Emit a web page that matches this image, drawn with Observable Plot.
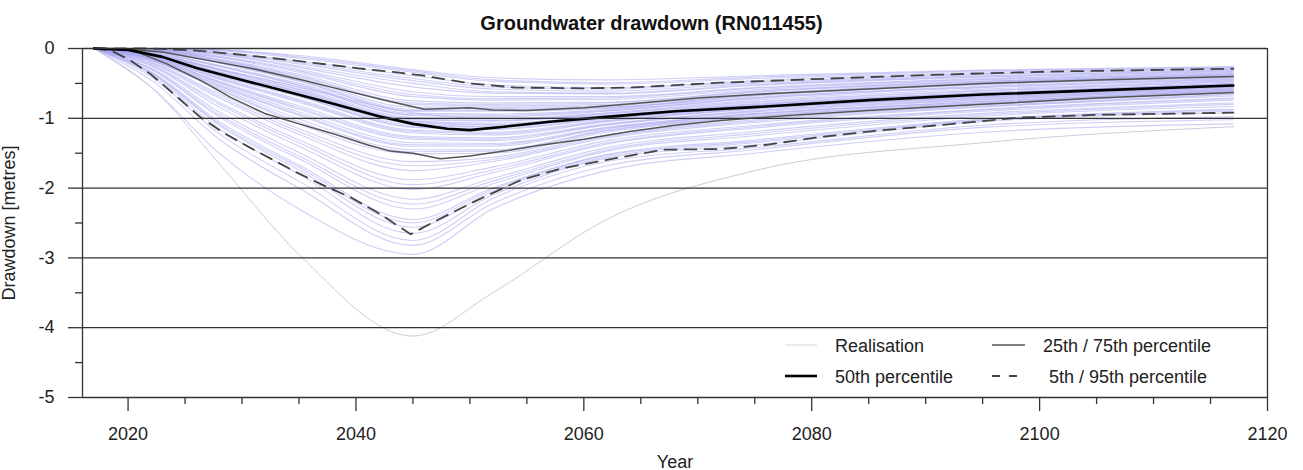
<!DOCTYPE html>
<html><head><meta charset="utf-8">
<script src="https://cdn.jsdelivr.net/npm/d3@7"></script>
<script src="https://cdn.jsdelivr.net/npm/@observablehq/plot@0.6"></script>
<style>
body{margin:0;background:#fff;font-family:"Liberation Sans",Arial,sans-serif;}
#wrap{position:relative;width:1303px;height:470px;overflow:hidden;}
#title{height:36px;box-sizing:border-box;padding-top:12px;text-align:center;font-weight:bold;font-size:20px;color:#111;}
#legend{position:absolute;left:0;top:0;pointer-events:none;}
</style></head><body>
<div id="wrap"><div id="title">Groundwater drawdown (RN011455)</div><div id="chart"></div>
<svg id="legend" width="1303" height="470"></svg></div>
<script>
// ---- data ----
const realYears = [2017, 2022, 2028, 2035, 2045, 2052, 2062, 2075, 2095, 2117];
const realisations = [
  [0, 0, -0.02, -0.10, -0.30, -0.42, -0.45, -0.39, -0.31, -0.26],
  [0, 0, -0.03, -0.14, -0.34, -0.47, -0.51, -0.43, -0.34, -0.28],
  [0, 0, -0.05, -0.18, -0.39, -0.52, -0.56, -0.46, -0.36, -0.29],
  [0, -0.01, -0.07, -0.22, -0.46, -0.58, -0.61, -0.50, -0.39, -0.31],
  [0, -0.01, -0.09, -0.27, -0.55, -0.64, -0.65, -0.53, -0.41, -0.33],
  [0, -0.01, -0.11, -0.30, -0.62, -0.69, -0.69, -0.56, -0.43, -0.34],
  [0, -0.02, -0.13, -0.34, -0.69, -0.74, -0.73, -0.59, -0.45, -0.36],
  [0, -0.02, -0.15, -0.37, -0.75, -0.78, -0.77, -0.61, -0.47, -0.37],
  [0, -0.02, -0.17, -0.40, -0.80, -0.82, -0.80, -0.63, -0.48, -0.38],
  [0, -0.03, -0.18, -0.42, -0.84, -0.84, -0.82, -0.65, -0.49, -0.39],
  [0, -0.03, -0.19, -0.44, -0.87, -0.86, -0.84, -0.66, -0.50, -0.40],
  [0, -0.04, -0.21, -0.47, -0.90, -0.90, -0.86, -0.68, -0.52, -0.42],
  [0, -0.05, -0.24, -0.50, -0.93, -0.94, -0.88, -0.70, -0.54, -0.43],
  [0, -0.06, -0.26, -0.53, -0.96, -0.98, -0.90, -0.72, -0.56, -0.45],
  [0, -0.07, -0.29, -0.56, -0.99, -1.01, -0.92, -0.74, -0.58, -0.46],
  [0, -0.08, -0.31, -0.59, -1.02, -1.04, -0.94, -0.77, -0.61, -0.48],
  [0, -0.08, -0.33, -0.61, -1.04, -1.07, -0.96, -0.79, -0.63, -0.50],
  [0, -0.09, -0.35, -0.63, -1.06, -1.10, -0.97, -0.81, -0.65, -0.51],
  [0, -0.10, -0.37, -0.65, -1.08, -1.12, -0.98, -0.82, -0.66, -0.52],
  [0, -0.10, -0.38, -0.66, -1.10, -1.13, -0.99, -0.83, -0.67, -0.53],
  [0, -0.11, -0.40, -0.69, -1.13, -1.16, -1.01, -0.84, -0.68, -0.54],
  [0, -0.11, -0.42, -0.73, -1.17, -1.20, -1.03, -0.86, -0.69, -0.55],
  [0, -0.12, -0.44, -0.77, -1.21, -1.24, -1.05, -0.87, -0.71, -0.56],
  [0, -0.13, -0.47, -0.82, -1.26, -1.28, -1.08, -0.89, -0.72, -0.57],
  [0, -0.14, -0.49, -0.87, -1.30, -1.32, -1.10, -0.91, -0.74, -0.58],
  [0, -0.14, -0.51, -0.91, -1.35, -1.36, -1.13, -0.93, -0.76, -0.59],
  [0, -0.15, -0.54, -0.96, -1.40, -1.40, -1.15, -0.94, -0.77, -0.60],
  [0, -0.16, -0.56, -1.01, -1.45, -1.45, -1.17, -0.96, -0.78, -0.61],
  [0, -0.17, -0.59, -1.08, -1.51, -1.50, -1.20, -0.98, -0.80, -0.63],
  [0, -0.19, -0.65, -1.15, -1.62, -1.56, -1.24, -1.02, -0.82, -0.65],
  [0, -0.21, -0.71, -1.23, -1.75, -1.62, -1.28, -1.06, -0.84, -0.68],
  [0, -0.23, -0.77, -1.31, -1.88, -1.70, -1.32, -1.10, -0.87, -0.71],
  [0, -0.25, -0.84, -1.40, -2.02, -1.78, -1.37, -1.14, -0.90, -0.74],
  [0, -0.28, -0.91, -1.49, -2.16, -1.86, -1.42, -1.19, -0.93, -0.78],
  [0, -0.30, -0.98, -1.58, -2.30, -1.94, -1.47, -1.25, -0.97, -0.83],
  [0, -0.33, -1.05, -1.67, -2.45, -2.00, -1.52, -1.31, -1.01, -0.87],
  [0, -0.35, -1.10, -1.74, -2.56, -2.05, -1.55, -1.35, -1.03, -0.90],
  [0, -0.37, -1.15, -1.80, -2.65, -2.10, -1.57, -1.38, -1.05, -0.92],
  [0, -0.45, -1.30, -2.00, -2.82, -2.22, -1.68, -1.45, -1.13, -1.02],
  [0, -0.55, -1.50, -2.30, -2.95, -2.30, -1.75, -1.50, -1.20, -1.08],
  [0, 0, -0.02, -0.12, -0.32, -0.45, -0.49, -0.41, -0.32, -0.27],
  [0, -0.01, -0.06, -0.20, -0.43, -0.55, -0.58, -0.48, -0.37, -0.30],
  [0, -0.01, -0.08, -0.25, -0.50, -0.62, -0.64, -0.52, -0.40, -0.32],
  [0, -0.02, -0.12, -0.32, -0.66, -0.72, -0.71, -0.57, -0.44, -0.35],
  [0, -0.02, -0.16, -0.39, -0.78, -0.80, -0.78, -0.62, -0.47, -0.38],
  [0, -0.03, -0.20, -0.46, -0.89, -0.88, -0.85, -0.67, -0.51, -0.41],
  [0, -0.05, -0.25, -0.52, -0.95, -0.96, -0.89, -0.71, -0.55, -0.44],
  [0, -0.07, -0.30, -0.58, -1.01, -1.03, -0.93, -0.76, -0.60, -0.47],
  [0, -0.09, -0.34, -0.62, -1.05, -1.09, -0.96, -0.80, -0.64, -0.51],
  [0, -0.10, -0.39, -0.68, -1.12, -1.15, -1.00, -0.84, -0.67, -0.53],
  [0, -0.12, -0.43, -0.75, -1.19, -1.22, -1.04, -0.86, -0.70, -0.55],
  [0, -0.13, -0.48, -0.85, -1.28, -1.30, -1.09, -0.90, -0.73, -0.58],
  [0, -0.15, -0.53, -0.94, -1.38, -1.38, -1.14, -0.94, -0.76, -0.60],
  [0, -0.17, -0.58, -1.05, -1.48, -1.47, -1.18, -0.97, -0.79, -0.62],
  [0, -0.20, -0.68, -1.19, -1.68, -1.59, -1.26, -1.04, -0.83, -0.66],
  [0, -0.24, -0.80, -1.35, -1.95, -1.74, -1.35, -1.12, -0.88, -0.72],
  [0, -0.29, -0.95, -1.54, -2.23, -1.90, -1.45, -1.22, -0.95, -0.80],
  [0, -0.34, -1.08, -1.70, -2.50, -2.02, -1.53, -1.33, -1.02, -0.88],
  [0, -0.40, -1.22, -1.90, -2.75, -2.15, -1.62, -1.42, -1.10, -0.98],
  [0, -0.08, -0.30, -0.55, -0.92, -1.00, -0.97, -0.82, -0.64, -0.50]
];
const outlier = [0, -0.55, -1.65, -2.95, -4.12, -3.50, -2.45, -1.75, -1.35, -1.12];

const p50Years  = [2017, 2020, 2023, 2026, 2030, 2034, 2038, 2042, 2045, 2048, 2050, 2053, 2057, 2062, 2068, 2075, 2085, 2095, 2105, 2117];
const p50Values = [0, -0.02, -0.12, -0.28, -0.45, -0.62, -0.79, -0.97, -1.08, -1.15, -1.17, -1.12, -1.05, -0.98, -0.90, -0.84, -0.74, -0.66, -0.60, -0.53];
const p25Years  = [2017, 2020, 2023, 2027, 2031, 2035, 2039, 2043, 2046, 2048, 2050, 2052, 2055, 2060, 2065, 2070, 2077, 2085, 2095, 2105, 2117];
const p25Values = [0, -0.01, -0.05, -0.17, -0.29, -0.44, -0.60, -0.76, -0.87, -0.86, -0.85, -0.88, -0.89, -0.85, -0.78, -0.71, -0.64, -0.58, -0.50, -0.45, -0.40];
const p75Years  = [2017, 2019, 2020.5, 2023.4, 2026.4, 2029, 2032, 2035, 2038, 2041, 2043, 2045, 2047.4, 2050, 2053, 2056, 2060, 2064, 2068, 2072, 2078, 2085, 2095, 2105, 2117];
const p75Values = [0, -0.01, -0.03, -0.22, -0.46, -0.70, -0.93, -1.08, -1.22, -1.38, -1.47, -1.50, -1.58, -1.54, -1.47, -1.39, -1.30, -1.19, -1.10, -1.03, -0.96, -0.89, -0.80, -0.71, -0.63];
const p5Years   = [2017, 2022, 2026, 2030, 2035, 2040, 2044, 2046, 2050, 2054, 2060, 2064, 2072, 2080, 2090, 2101, 2117];
const p5Values  = [0, 0, -0.03, -0.09, -0.18, -0.28, -0.35, -0.39, -0.50, -0.56, -0.57, -0.56, -0.49, -0.44, -0.38, -0.33, -0.29];
const p95Years  = [2017, 2018.5, 2020, 2022, 2024, 2026.4, 2028.5, 2030.7, 2033, 2035.1, 2037, 2039.5, 2042, 2044.8, 2047, 2050.3, 2054.4, 2058, 2063.2, 2067, 2072, 2076, 2080.7, 2085, 2092.4, 2098.3, 2105, 2117];
const p95Values = [0, -0.03, -0.15, -0.37, -0.65, -0.99, -1.22, -1.42, -1.62, -1.80, -1.95, -2.13, -2.36, -2.66, -2.47, -2.20, -1.89, -1.72, -1.56, -1.45, -1.44, -1.38, -1.27, -1.19, -1.08, -0.99, -0.95, -0.92];

const xMajor = [2020, 2040, 2060, 2080, 2100, 2120];
const xMinor = [2025, 2030, 2035, 2045, 2050, 2055, 2065, 2070, 2075, 2085, 2090, 2095, 2105, 2110, 2115];
const yMajor = [-5, -4, -3, -2, -1, 0];
const yMinor = [-4.5, -3.5, -2.5, -1.5, -0.5];

// ---- tables ----
const realRows = realisations.flatMap((vals, id) => realYears.map((year, i) => ({id, year, value: vals[i]})));
const outRows = realYears.map((year, i) => ({year, value: outlier[i]}));
const rows = (ys, vs) => ys.map((year, i) => ({year, value: vs[i]}));

const chart = Plot.plot({
  width: 1303, height: 434,
  marginTop: 12, marginBottom: 73, marginLeft: 82, marginRight: 36,
  style: {fontFamily: "'Liberation Sans', Arial, sans-serif", fontSize: "18px", color: "#222", background: "white", overflow: "visible"},
  x: {domain: [2016, 2120]},
  y: {domain: [-5, 0]},
  marks: [
    Plot.line(realRows, {x: "year", y: "value", z: "id", stroke: "#a8a8f0", strokeWidth: 1.1, strokeOpacity: 0.55, curve: "monotone-x"}),
    Plot.line(outRows, {x: "year", y: "value", stroke: "#ccccde", strokeWidth: 1, curve: "monotone-x"}),
    Plot.line(rows(p95Years, p95Values), {x: "year", y: "value", stroke: "#444", strokeWidth: 1.8, strokeDasharray: "12,8"}),
    Plot.line(rows(p5Years, p5Values), {x: "year", y: "value", stroke: "#444", strokeWidth: 1.8, strokeDasharray: "12,8"}),
    Plot.line(rows(p75Years, p75Values), {x: "year", y: "value", stroke: "#555", strokeWidth: 1.5}),
    Plot.line(rows(p25Years, p25Values), {x: "year", y: "value", stroke: "#555", strokeWidth: 1.5}),
    Plot.line(rows(p50Years, p50Values), {x: "year", y: "value", stroke: "#000", strokeWidth: 2.6}),
    Plot.ruleY(yMajor, {stroke: "#333", strokeWidth: 1.3}),
    Plot.ruleX([2016, 2120], {stroke: "#333", strokeWidth: 1.3}),
    Plot.axisX(xMajor, {tickSize: 14, tickPadding: 16, tickFormat: d => String(d), label: "Year", labelAnchor: "center", labelArrow: "none", labelOffset: 70, stroke: "#333", strokeWidth: 1.3}),
    Plot.axisX(xMinor, {tickSize: 7, tickFormat: () => "", label: null, stroke: "#333", strokeWidth: 1.3}),
    Plot.axisY(yMajor, {tickSize: 14, tickPadding: 14, tickFormat: d => String(d), label: "Drawdown [metres]", labelAnchor: "center", labelArrow: "none", labelOffset: 80, stroke: "#333", strokeWidth: 1.3}),
    Plot.axisY(yMinor, {tickSize: 7, tickFormat: () => "", label: null, stroke: "#333", strokeWidth: 1.3})
  ]
});
document.getElementById("chart").appendChild(chart);

// ---- legend (inside plot, bottom right) ----
const legendItems = [
  {label: "Realisation", x1: 785, x2: 817, tx: 835, y: 345, stroke: "#dcdce8", width: 1.2, dash: null},
  {label: "25th / 75th percentile", x1: 992, x2: 1025, tx: 1043, y: 345, stroke: "#555", width: 1.5, dash: null},
  {label: "50th percentile", x1: 785, x2: 817, tx: 835, y: 376, stroke: "#000", width: 2.6, dash: null},
  {label: "5th / 95th percentile", x1: 992, x2: 1018, tx: 1049, y: 376, stroke: "#444", width: 1.8, dash: "8,9"}
];
const lg = d3.select("#legend");
for (const it of legendItems) {
  lg.append("line").attr("x1", it.x1).attr("x2", it.x2).attr("y1", it.y).attr("y2", it.y)
    .attr("stroke", it.stroke).attr("stroke-width", it.width).attr("stroke-dasharray", it.dash);
  lg.append("text").attr("x", it.tx).attr("y", it.y + 6.5).text(it.label)
    .attr("font-family", "'Liberation Sans', Arial, sans-serif").attr("font-size", 18).attr("fill", "#222");
}
</script>
</body></html>
